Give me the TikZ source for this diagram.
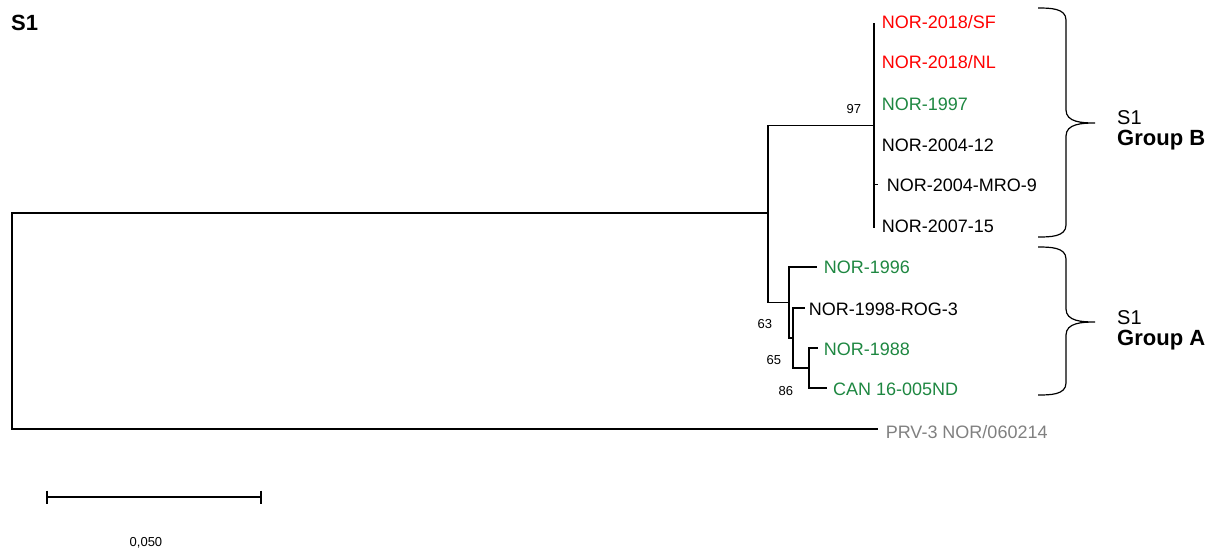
\documentclass[tikz,border=0pt]{standalone}
\usepackage{fontspec}
\usetikzlibrary{calc}
\setmainfont{Liberation Sans}
\definecolor{leafred}{RGB}{255,0,0}
\definecolor{leafgreen}{RGB}{30,135,65}
\definecolor{outgroup}{RGB}{128,128,128}

\begin{document}
\begin{tikzpicture}[x=1pt,y=-1pt,
  branch/.style={line width=1.4pt, black},
  leaf/.style={anchor=base west, inner sep=0pt, font=\fontsize{18}{20}\selectfont},
  boot/.style={anchor=base west, inner sep=0pt, font=\fontsize{13}{15}\selectfont},
  brace/.style={line width=1.2pt},
  grp/.style={anchor=base west, inner sep=0pt, font=\fontsize{20}{22}\selectfont},
  grpb/.style={anchor=base west, inner sep=0pt, font=\fontsize{22}{24}\selectfont\bfseries},
]
\useasboundingbox (0,0) rectangle (1215,550);

% title
\node[anchor=base west, inner sep=0pt, font=\fontsize{22}{24}\selectfont\bfseries] (title) at (11,30.5) {S1};

% internal nodes
\coordinate (root) at (12,321);
\coordinate (c)    at (768,213);
\coordinate (b)    at (874,125.5);
\coordinate (a)    at (789,302.5);
\coordinate (a2)   at (793,338);
\coordinate (a3)   at (809,368);

% leaf tips
\coordinate (tSF)   at (874,23);
\coordinate (tNL)   at (874,62);
\coordinate (t1997) at (874,103.5);
\coordinate (t0412) at (874,144.5);
\coordinate (tMRO)  at (878,184.5);
\coordinate (t0715) at (874,227.5);
\coordinate (t1996) at (817,267);
\coordinate (tROG)  at (805,308);
\coordinate (t1988) at (818,348);
\coordinate (tCAN)  at (827,388);
\coordinate (tPRV)  at (878,429);

% branches
\draw[branch] (root) |- (c);
\draw[branch] (root) |- (tPRV);
\draw[branch] (c) |- (b);
\draw[branch] (c) |- (a);
\draw[branch] (b) -- (tSF);
\draw[branch] (b) -- (t0715);
\draw[branch] (b) |- (tMRO);
\draw[branch] (a) |- (t1996);
\draw[branch] (a) |- (a2);
\draw[branch] (a2) |- (tROG);
\draw[branch] (a2) |- (a3);
\draw[branch] (a3) |- (t1988);
\draw[branch] (a3) |- (tCAN);

% leaf labels
\node[leaf, text=leafred]   (lSF)   at (881.6,28.5) {NOR-2018/SF};
\node[leaf, text=leafred]   (lNL)   at (881.6,68.5) {NOR-2018/NL};
\node[leaf, text=leafgreen] (l1997) at (881.6,110) {NOR-1997};
\node[leaf]                 (l0412) at (881.6,151) {NOR-2004-12};
\node[leaf]                 (lMRO)  at (886.6,191) {NOR-2004-MRO-9};
\node[leaf]                 (l0715) at (881.6,232) {NOR-2007-15};
\node[leaf, text=leafgreen] (l1996) at (823.6,273.5) {NOR-1996};
\node[leaf]                 (lROG)  at (808.6,315) {NOR-1998-ROG-3};
\node[leaf, text=leafgreen] (l1988) at (823.6,355) {NOR-1988};
\node[leaf, text=leafgreen] (lCAN)  at (833,395) {CAN 16-005ND};
\node[leaf, text=outgroup]  (lPRV)  at (885.6,438) {PRV-3 NOR/060214};

% bootstrap values
\node[boot] (bs97) at (846.5,113) {97};
\node[boot] (bs63) at (757.5,328) {63};
\node[boot] (bs65) at (766.5,364) {65};
\node[boot] (bs86) at (778.5,395) {86};

% group braces
\draw[brace] (1038,8) to[out=0,in=90] (1066,20) -- (1066,110)
  to[out=-90,in=180] (1095,123) to[out=180,in=90] (1066,136)
  -- (1066,225) to[out=-90,in=0] (1038,237);
\draw[brace] (1038,247) to[out=0,in=90] (1066,259) -- (1066,309)
  to[out=-90,in=180] (1095,322) to[out=180,in=90] (1066,335)
  -- (1066,383) to[out=-90,in=0] (1038,395);

\node[grp]  (gB1) at (1117,124) {S1};
\node[grpb] (gB2) at (1117,145) {Group B};
\node[grp]  (gA1) at (1117,324) {S1};
\node[grpb] (gA2) at (1117,345) {Group A};

% scale bar
\coordinate (sL) at (47,497);
\coordinate (sR) at (261,497);
\draw[branch] (sL) -- (sR);
\draw[branch] ($(sL)+(0,-6.5)$) -- ($(sL)+(0,6.5)$);
\draw[branch] ($(sR)+(0,-6.5)$) -- ($(sR)+(0,6.5)$);
\node[boot] (scale) at (129.5,546) {0,050};

\end{tikzpicture}
\end{document}
